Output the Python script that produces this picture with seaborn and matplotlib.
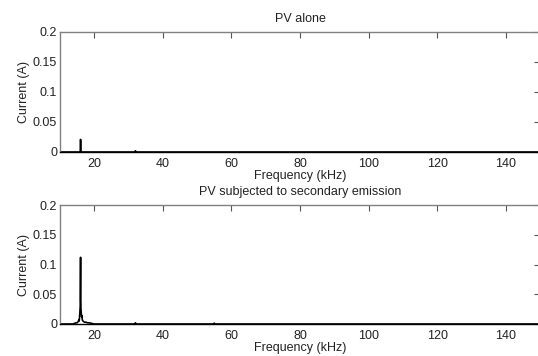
import matplotlib
matplotlib.use("Agg")
from matplotlib import pyplot as plt
import seaborn as sns
import pandas as pd

# spectrum readings (kHz, A)
alone_freq = [10, 15.6, 15.9, 16.0, 16.05, 16.1, 16.4, 31.8, 32.0, 32.2, 150]
alone_curr = [0, 0, 0, 0.021, 0.012, 0, 0, 0, 0.002, 0, 0]

emis_freq = [10, 13.8, 14.2, 14.6, 15.0, 15.3, 15.5, 15.6, 15.7, 15.8, 15.9, 16.0, 16.05, 16.1,
             16.2, 16.3, 16.4, 16.5, 16.7, 16.9, 17.2, 17.6, 18.0, 18.6, 19.2, 20.0,
             31.8, 32.0, 32.2, 54.8, 55.0, 55.2, 150]
emis_curr = [0, 0, 0.001, 0.002, 0.002, 0.004, 0.007, 0.005, 0.012, 0.02, 0.03, 0.112, 0.04, 0.027,
             0.018, 0.012, 0.014, 0.007, 0.005, 0.004, 0.003, 0.003, 0.002, 0.002, 0.001, 0,
             0, 0.002, 0, 0, 0.0015, 0, 0]

titles = ["PV alone", "PV subjected to secondary emission"]
xticks = [20, 40, 60, 80, 100, 120, 140]
yticks = [0, 0.05, 0.1, 0.15, 0.2]
ytick_labels = ["0", "0.05", "0.1", "0.15", "0.2"]

sns.set_style("white")
plt.rcParams['font.family'] = ['Liberation Sans', 'DejaVu Sans']
plt.rcParams['font.size'] = 9

fig = plt.figure(figsize=(5.38, 3.56), dpi=100)
ax1 = fig.add_axes([60 / 538, 1 - 152 / 356, 480 / 538, 120 / 356])
ax2 = fig.add_axes([60 / 538, 1 - 324 / 356, 480 / 538, 119 / 356])

datasets = [(alone_freq, alone_curr), (emis_freq, emis_curr)]
for ax, (f, c), title in zip([ax1, ax2], datasets, titles):
    df = pd.DataFrame({"Frequency (kHz)": f, "Current (A)": c})
    sns.lineplot(data=df, x="Frequency (kHz)", y="Current (A)", ax=ax,
                 color="black", linewidth=1.2, estimator=None, sort=False)
    ax.set_xlim(10, 150)
    ax.set_ylim(0, 0.2)
    ax.set_xticks(xticks)
    ax.set_yticks(yticks)
    ax.set_yticklabels(ytick_labels)
    ax.set_title(title, fontsize=9, pad=7, color="#222222")
    ax.set_xlabel("Frequency (kHz)", fontsize=9, labelpad=0, color="#222222")
    ax.set_ylabel("Current (A)", fontsize=9, labelpad=2, color="#222222")
    ax.tick_params(direction="in", length=4, width=0.8, top=True, right=True,
                   colors="#555555", labelcolor="#222222", labelsize=9)
    ax.tick_params(axis="x", pad=4)
    ax.tick_params(axis="y", pad=2)
    for s in ax.spines.values():
        s.set_color("#808080")
        s.set_linewidth(1.0)
    ax.spines["bottom"].set_color("black")

fig.savefig("out.png", dpi=100)
